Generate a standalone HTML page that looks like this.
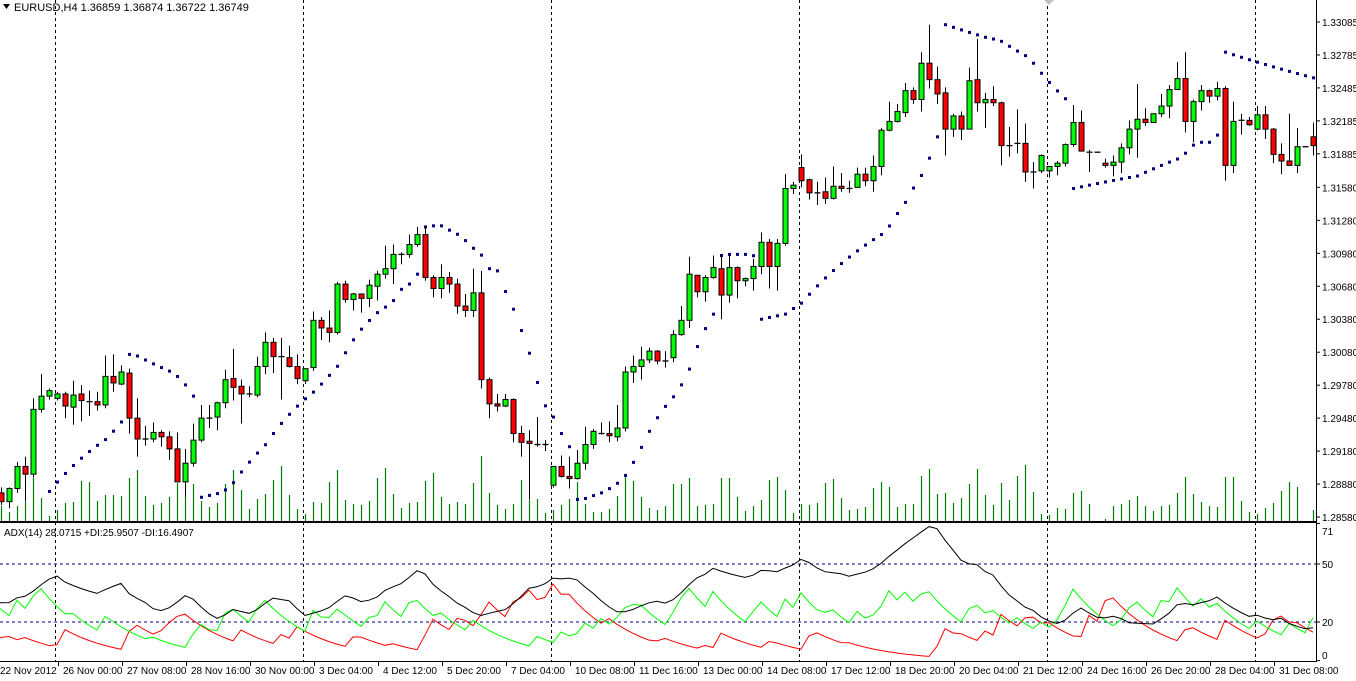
<!DOCTYPE html>
<html><head><meta charset="utf-8">
<style>
html,body{margin:0;padding:0;background:#fff;}
svg{display:block;font-family:"Liberation Sans",sans-serif;}
</style></head>
<body>
<svg id="chart" width="1356" height="681" viewBox="0 0 1356 681" xmlns="http://www.w3.org/2000/svg">
  <rect x="0" y="0" width="1356" height="681" fill="#fff"/>
  <g id="grid"></g>
  <g id="vol"></g>
  <g id="sar"></g>
  <g id="candles"></g>
  <g id="adx"></g>
  <g id="axes"></g>
  <text x="14" y="11" font-size="11" fill="#000">EURUSD,H4  1.36859 1.36874 1.36722 1.36749</text>
  <polygon points="3,4 10,4 6.5,9" fill="#000"/>
  <text x="4" y="536" font-size="10" fill="#000">ADX(14) 28.0715 +DI:25.9507 -DI:16.4907</text>
  <polygon points="1044,0 1054,0 1049,5" fill="#c0c0c0"/>
</svg>
<script>
// prices in units of 0.0001
const openP=[12880,12872,12884,12904,12897,12956,12968,12966,12970,12958,12970,12963,12963,12960,12986,12979,12989,12948,12929,12929,12935,12931,12920,12890,12907,12928,12948,12949,12962,12984,12977,12970,12969,12995,13017,13004,13003,12995,12982,12994,13037,13030,13026,13070,13056,13061,13057,13068,13079,13084,13097,13097,13106,13115,13076,13066,13076,13070,13050,13046,13062,12983,12961,12959,12965,12934,12927,12924,12924,12887,12904,12895,12893,12907,12924,12934,12934,12931,12939,12990,12995,13001,13009,13000,13003,13024,13037,13078,13063,13076,13084,13060,13085,13073,13075,13086,13108,13086,13107,13157,13176,13165,13153,13154,13148,13159,13157,13158,13170,13164,13177,13210,13218,13226,13246,13238,13271,13256,13244,13211,13223,13211,13256,13235,13238,13235,13196,13197,13198,13172,13173,13173,13177,13180,13197,13217,13190,13190,13180,13178,13181,13194,13211,13220,13217,13225,13232,13247,13257,13218,13236,13246,13241,13248,13178,13219,13219,13211,13224,13211,13188,13182,13178,13195,13204];
const highP=[12885,12885,12908,12913,12966,12988,12975,12972,12972,12982,12978,12973,12972,13005,13006,12996,12993,12966,12941,12944,12937,12936,12935,12920,12943,12960,12960,12963,12992,13011,12983,12977,13004,13026,13021,13021,13014,13006,12993,13045,13040,13046,13072,13073,13062,13061,13074,13082,13105,13106,13099,13115,13122,13123,13078,13088,13081,13075,13061,13084,13082,12985,12970,12970,12966,12941,12937,12949,12928,12904,12914,12913,12919,12940,12938,12944,12945,12960,12995,13005,13013,13012,13010,13009,13028,13050,13095,13078,13078,13096,13097,13097,13086,13076,13093,13117,13111,13111,13170,13163,13188,13166,13163,13167,13177,13171,13164,13176,13176,13187,13212,13236,13234,13253,13249,13281,13306,13268,13249,13225,13227,13267,13293,13244,13250,13236,13213,13229,13216,13181,13188,13176,13182,13198,13233,13228,13192,13190,13184,13187,13198,13219,13252,13230,13225,13243,13251,13272,13281,13238,13251,13247,13254,13250,13236,13225,13222,13232,13232,13212,13198,13225,13212,13195,13217];
const lowP=[12869,12866,12880,12872,12894,12953,12965,12964,12948,12942,12945,12950,12955,12957,12972,12978,12934,12913,12923,12926,12922,12910,12890,12876,12904,12926,12939,12937,12957,12964,12943,12967,12967,12988,12989,12965,12994,12979,12979,12991,13019,13017,13024,13053,13046,13044,13049,13055,13075,13070,13088,13094,13104,13073,13058,13057,13062,13043,13040,13040,12975,12948,12954,12958,12926,12913,12874,12922,12918,12885,12894,12884,12892,12901,12920,12933,12926,12927,12936,12980,12983,12998,12997,12994,12999,13023,13030,13058,13054,13075,13038,13053,13057,13068,13064,13079,13066,13064,13105,13152,13158,13147,13142,13143,13147,13154,13153,13158,13159,13154,13169,13209,13217,13222,13234,13227,13248,13234,13187,13204,13201,13211,13227,13212,13232,13178,13186,13189,13163,13157,13171,13167,13169,13177,13195,13191,13172,13190,13176,13168,13171,13188,13185,13214,13217,13222,13221,13247,13208,13199,13228,13235,13237,13164,13171,13206,13214,13210,13202,13180,13170,13178,13171,13195,13187];
const closeP=[12872,12884,12904,12897,12956,12968,12973,12970,12959,12969,12964,12962,12960,12986,12980,12990,12948,12929,12929,12935,12931,12920,12890,12907,12928,12948,12948,12962,12983,12976,12970,12970,12995,13017,13004,13003,12995,12984,12993,13037,13030,13026,13070,13056,13061,13057,13069,13079,13084,13097,13097,13106,13115,13076,13066,13076,13070,13050,13046,13062,12983,12961,12959,12965,12934,12926,12925,12924,12924,12904,12895,12893,12907,12924,12936,12934,12932,12939,12990,12995,13001,13009,13000,13000,13024,13037,13079,13063,13076,13085,13060,13085,13073,13075,13086,13108,13086,13107,13157,13160,13164,13153,13153,13148,13159,13157,13157,13170,13164,13177,13210,13218,13227,13246,13238,13271,13256,13243,13211,13223,13211,13255,13235,13238,13235,13196,13196,13198,13172,13172,13187,13177,13180,13197,13217,13191,13190,13190,13178,13181,13194,13211,13220,13217,13225,13232,13247,13257,13218,13236,13246,13241,13248,13178,13218,13219,13215,13224,13211,13188,13182,13178,13195,13195,13196];
const volume=[15,9,15,19,43,23,5,11,18,19,40,39,20,26,26,25,43,51,25,16,18,24,38,24,37,20,14,18,37,51,31,12,22,27,41,55,26,12,7,19,18,39,51,
21,17,16,20,43,53,27,13,18,19,40,48,24,17,19,17,38,65,28,16,12,17,41,21,22,8,11,16,22,39,17,9,9,12,25,45,40,24,13,11,15,
37,37,43,15,16,17,43,43,24,10,15,21,41,44,31,8,17,16,18,38,42,23,11,12,14,33,39,34,14,17,17,45,52,27,28,18,23,37,52,26,16,
38,21,45,56,29,7,6,13,12,28,30,17,0,2,15,17,21,25,15,10,15,16,28,44,27,19,15,14,44,44,20,9,7,13,18,30,39,34,0,11];
const priceTicks=["1.33085","1.32785","1.32485","1.32185","1.31885","1.31580","1.31280","1.30980","1.30680","1.30380","1.30080","1.29780","1.29480","1.29180","1.28880","1.28580"];
const priceTickVals=[13308.5,13278.5,13248.5,13218.5,13188.5,13158,13128,13098,13068,13038,13008,12978,12948,12918,12888,12858];
const timeLabels=["22 Nov 2012","26 Nov 00:00","27 Nov 08:00","28 Nov 16:00","30 Nov 00:00","3 Dec 04:00","4 Dec 12:00","5 Dec 20:00","7 Dec 04:00","10 Dec 08:00","11 Dec 16:00","13 Dec 00:00","14 Dec 08:00","17 Dec 12:00","18 Dec 20:00","20 Dec 04:00","21 Dec 12:00","24 Dec 16:00","26 Dec 20:00","28 Dec 04:00","31 Dec 08:00"];
const separatorBars=[7,38,69,100,131,157];
const adxTicks=[71,50,20,0];

const NS="http://www.w3.org/2000/svg";
function mk(tag,attrs,parent){const e=document.createElementNS(NS,tag);for(const k in attrs)e.setAttribute(k,attrs[k]);parent.appendChild(e);return e;}
const xOf=i=>1+8*i;
const yP=p=>(13328.5-p)/0.91;
const yV=v=>521-v;
const yA=v=>622-(v-20)*1.933;
const AXR=1316;

const grid=document.getElementById('grid');
separatorBars.forEach(b=>{const l=mk('line',{x1:xOf(b)-1.5,x2:xOf(b)-1.5,y1:0,y2:661,stroke:'#000','stroke-dasharray':'3,3','stroke-width':1},grid);

});

const vg=document.getElementById('vol');
volume.forEach((v,i)=>{if(v<=0)return;const l=mk('line',{x1:xOf(i)+0.5,x2:xOf(i)+0.5,y1:521,y2:yV(v),stroke:'#008000','stroke-width':1.2},vg);

});

const cg=document.getElementById('candles');
openP.forEach((o,i)=>{const c=closeP[i],h=highP[i],lo=lowP[i],x=xOf(i)+0.5;
 const g=mk('g',{},cg);
 
 
 mk('line',{x1:x,x2:x,y1:yP(h),y2:yP(lo),stroke:'#000','stroke-width':1},g);
 const t=Math.min(yP(o),yP(c)),b=Math.max(yP(o),yP(c));
 if(b-t<1.2){mk('line',{x1:x-3,x2:x+3,y1:t,y2:t,stroke:'#000','stroke-width':1.3},g);}
 else mk('rect',{x:x-2.5,y:t,width:5,height:b-t,fill:c>o?'#00ff00':'#ff0000',stroke:'#000','stroke-width':1},g);
});

const sg=document.getElementById('sar');
(function(){let up=true,sar=lowP[0],ep=highP[0],af=0.02;
 for(let i=1;i<openP.length;i++){
  sar=sar+af*(ep-sar);
  if(up){sar=Math.min(sar,lowP[i-1],i>1?lowP[i-2]:lowP[i-1]);
   if(lowP[i]<sar){up=false;sar=ep;ep=lowP[i];af=0.02;}
   else if(highP[i]>ep){ep=highP[i];af=Math.min(af+0.02,0.2);}}
  else{sar=Math.max(sar,highP[i-1],i>1?highP[i-2]:highP[i-1]);
   if(highP[i]>sar){up=true;sar=ep;ep=highP[i];af=0.02;}
   else if(lowP[i]<ep){ep=lowP[i];af=Math.min(af+0.02,0.2);}}
  const y=yP(sar);if(i<6||y<2||y>518)continue;
  const d=mk('rect',{x:xOf(i)-1,y:y-1.5,width:3,height:3,fill:'#000080'},sg);
  
  
 }})();

const ag=document.getElementById('adx');
[50,20].forEach(v=>{const l=mk('line',{x1:0,x2:AXR,y1:yA(v),y2:yA(v),stroke:'#000080','stroke-dasharray':'3,3'},ag);

});
(function(){const a=2/15;let pdi=27,mdi=12,adx=30;const P=[[0,yA(pdi)]],M=[[0,yA(mdi)]],A=[[0,yA(adx)]];
 for(let i=1;i<openP.length;i++){
  let up=highP[i]-highP[i-1],dn=lowP[i-1]-lowP[i];let pdm=0,mdm=0;
  if(up>dn&&up>0)pdm=up; if(dn>up&&dn>0)mdm=dn;
  const tr=Math.max(highP[i]-lowP[i],Math.abs(highP[i]-closeP[i-1]),Math.abs(lowP[i]-closeP[i-1]));
  pdm=tr?100*pdm/tr:0;mdm=tr?100*mdm/tr:0;
  pdi=pdi+a*(pdm-pdi);mdi=mdi+a*(mdm-mdi);
  const dx=(pdi+mdi)?100*Math.abs(pdi-mdi)/(pdi+mdi):0;adx=adx+a*(dx-adx);
  P.push([xOf(i),yA(pdi)]);M.push([xOf(i),yA(mdi)]);A.push([xOf(i),yA(adx)]);}
 const pts=arr=>arr.map(p=>p[0]+','+p[1].toFixed(1)).join(' ');
 const l1=mk('polyline',{points:pts(M),fill:'none',stroke:'#ff0000','stroke-width':1},ag);
 
 
 const l2=mk('polyline',{points:pts(P),fill:'none',stroke:'#00ff00','stroke-width':1},ag);
 
 
 const l3=mk('polyline',{points:pts(A),fill:'none',stroke:'#000','stroke-width':1},ag);
 
 
})();

const ax=document.getElementById('axes');
mk('rect',{x:AXR+1,y:0,width:40,height:681,fill:'#fff'},ax);
mk('line',{x1:0,x2:AXR,y1:522,y2:522,stroke:'#000','stroke-width':2},ax);
mk('line',{x1:0,x2:AXR,y1:661.5,y2:661.5,stroke:'#000','stroke-width':1},ax);
mk('line',{x1:AXR+0.5,x2:AXR+0.5,y1:0,y2:662,stroke:'#000','stroke-width':1},ax);
priceTicks.forEach((t,k)=>{const y=yP(priceTickVals[k]);
 mk('line',{x1:AXR,x2:AXR+4,y1:y,y2:y,stroke:'#000'},ax);
 const e=mk('text',{x:1322,y:y+4,'font-size':10,fill:'#000'},ax);e.textContent=t;
 
 });
adxTicks.forEach(v=>{const y=v===0?655:(v===71?531:yA(v));
 mk('line',{x1:AXR,x2:AXR+4,y1:yA(v),y2:yA(v),stroke:'#000'},ax);
 const e=mk('text',{x:1322,y:y+4,'font-size':10,fill:'#000'},ax);e.textContent=v;
 
 });
timeLabels.forEach((t,k)=>{const x=k===0?0:63+64*(k-1);
 mk('line',{x1:x-4.5,x2:x-4.5,y1:662,y2:666,stroke:'#000'},ax);
 const e=mk('text',{x:x,y:674,'font-size':10,fill:'#000'},ax);e.textContent=t;
 
 });
</script>
</body></html>
